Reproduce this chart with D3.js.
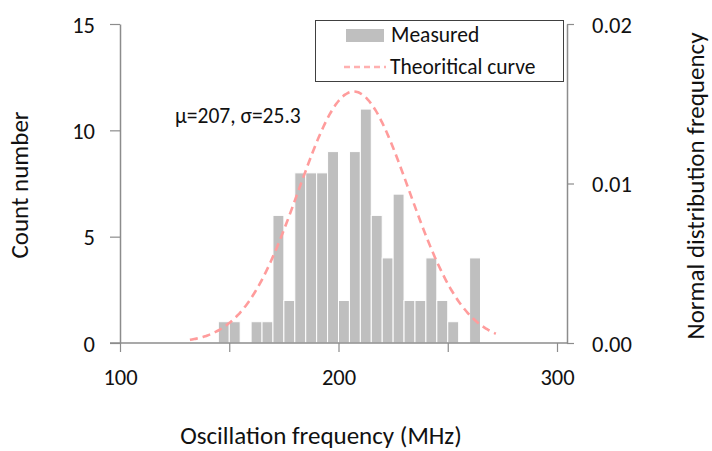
<!DOCTYPE html>
<html>
<head>
<meta charset="utf-8">
<script src="https://cdn.jsdelivr.net/npm/d3@7"></script>
<style>
  html, body { margin: 0; padding: 0; background: #fff; }
  svg { display: block; }
  text { font-family: Carlito, Lato, "Noto Sans", sans-serif; fill: #111; }
</style>
</head>
<body>
<svg id="chart" width="712" height="451"></svg>
<script>
// Histogram bins: lower edge of each 5 MHz bin and the count in it
const binStarts = [145, 150, 160, 165, 170, 175, 180, 185, 190, 195, 200, 205, 210, 215, 220, 225, 230, 235, 240, 245, 250, 260];
const counts    = [1,   1,   1,   1,   6,   2,   8,   8,   8,   9,   2,   9,   11,  6,   4,   7,   2,   2,   4,   2,   1,   4];
const binWidth = 5;

// Fitted normal distribution parameters
const mu = 207;
const sigma = 25.3;
const curveRange = [132, 272];

// Axis ticks
const xTicks = [100, 150, 200, 250, 300];
const xTickLabels = ["100", "", "200", "", "300"];
const countTicks = [0, 5, 10, 15];
const freqTicks = [0, 0.01, 0.02];

const svg = d3.select("#chart");
const plotLeft = 120, plotRight = 557, plotTop = 24, plotBottom = 343, rightAxisX = 567;

const x = d3.scaleLinear().domain([100, 300]).range([plotLeft, plotRight]);
const yCount = d3.scaleLinear().domain([0, 15]).range([plotBottom, plotTop]);
const yFreq = d3.scaleLinear().domain([0, 0.02]).range([plotBottom, plotTop]);

const axisColor = "#8c8c8c";
const tickFont = 22.5;
const titleFont = 25;

// Bars
svg.append("g").selectAll("rect")
  .data(binStarts.map((s, i) => ({ s, c: counts[i] })))
  .join("rect")
  .attr("x", d => x(d.s))
  .attr("width", d => x(d.s + binWidth) - x(d.s))
  .attr("y", d => yCount(d.c))
  .attr("height", d => yCount(0) - yCount(d.c))
  .attr("fill", "#bfbfbf")
  .attr("stroke", "#ffffff")
  .attr("stroke-width", 1);

// Theoretical normal curve
const pdf = v => Math.exp(-0.5 * ((v - mu) / sigma) ** 2) / (sigma * Math.sqrt(2 * Math.PI));
const curvePts = d3.range(curveRange[0], curveRange[1] + 0.01, 1).map(v => [v, pdf(v)]);
svg.append("path")
  .datum(curvePts)
  .attr("fill", "none")
  .attr("stroke", "#ff9c9c")
  .attr("stroke-width", 2.6)
  .attr("stroke-dasharray", "8,5")
  .attr("d", d3.line().x(d => x(d[0])).y(d => yFreq(d[1])).curve(d3.curveBasis));

// X axis
const xAxis = svg.append("g").attr("transform", `translate(0,${plotBottom})`)
  .call(d3.axisBottom(x).tickValues(xTicks).tickFormat((d, i) => xTickLabels[i]).tickSize(9).tickSizeOuter(0));
xAxis.select(".domain").remove();
xAxis.append("line").attr("x1", 110).attr("x2", rightAxisX).attr("y1", 0).attr("y2", 0)
  .attr("stroke", axisColor).attr("stroke-width", 1.5);
xAxis.selectAll(".tick line").attr("stroke", axisColor).attr("stroke-width", 1.2);
xAxis.selectAll(".tick text").attr("dy", 0).attr("y", 42).attr("font-size", tickFont).attr("fill", "#111");

// Left axis
const yL = svg.append("g").attr("transform", `translate(${plotLeft},0)`)
  .call(d3.axisLeft(yCount).tickValues(countTicks).tickSize(10).tickSizeOuter(0));
yL.select(".domain").attr("stroke", axisColor).attr("stroke-width", 1.5);
yL.selectAll(".tick line").attr("stroke", axisColor).attr("stroke-width", 1.2);
yL.selectAll(".tick text").attr("x", -25).attr("dy", "0.36em").attr("font-size", tickFont).attr("fill", "#111");

// Right axis
const yR = svg.append("g").attr("transform", `translate(${rightAxisX},0)`)
  .call(d3.axisRight(yFreq).tickValues(freqTicks).tickFormat(d3.format(".2f")).tickSize(7).tickSizeOuter(0));
yR.select(".domain").attr("stroke", axisColor).attr("stroke-width", 1.5);
yR.selectAll(".tick line").attr("stroke", axisColor).attr("stroke-width", 1.2);
yR.selectAll(".tick text").attr("x", 25).attr("dy", "0.36em").attr("font-size", tickFont).attr("fill", "#111");

// Axis titles
svg.append("text").attr("x", 321).attr("y", 444).attr("text-anchor", "middle")
  .attr("font-size", titleFont).text("Oscillation frequency (MHz)");
svg.append("text").attr("transform", "translate(28,185) rotate(-90)").attr("text-anchor", "middle")
  .attr("font-size", titleFont).text("Count number");
svg.append("text").attr("transform", "translate(704,186) rotate(-90)").attr("text-anchor", "middle")
  .attr("font-size", titleFont).text("Normal distribution frequency");

// Annotation
svg.append("text").attr("x", 175).attr("y", 123).attr("font-size", 21.5)
  .text(`μ=${mu}, σ=${sigma}`);

// Legend
const lg = svg.append("g");
lg.append("rect").attr("x", 315.5).attr("y", 20.5).attr("width", 248).attr("height", 61)
  .attr("fill", "#fff").attr("stroke", "#404040").attr("stroke-width", 1);
lg.append("rect").attr("x", 346).attr("y", 29).attr("width", 38).attr("height", 13).attr("fill", "#bfbfbf");
lg.append("text").attr("x", 391).attr("y", 42).attr("font-size", 21.5).text("Measured");
lg.append("line").attr("x1", 344).attr("x2", 386).attr("y1", 67).attr("y2", 67)
  .attr("stroke", "#ffb0b0").attr("stroke-width", 2.4).attr("stroke-dasharray", "6,4");
lg.append("text").attr("x", 390).attr("y", 74).attr("font-size", 21.5).text("Theoritical curve");
</script>
</body>
</html>
